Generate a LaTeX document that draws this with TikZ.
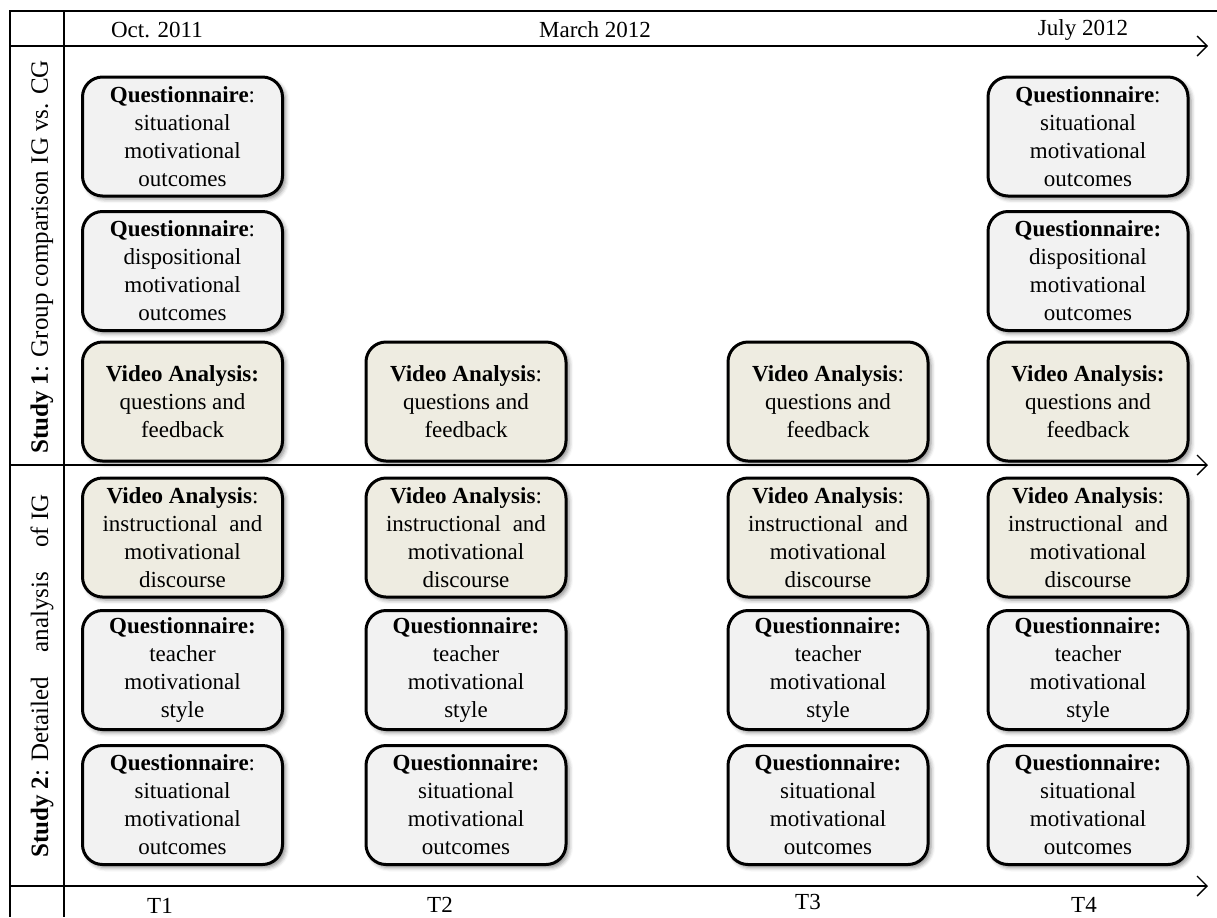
\documentclass[tikz,border=0pt]{standalone}
\usepackage{fontspec}
\setmainfont{Liberation Serif}
\usetikzlibrary{arrows.meta,shadows.blur}
\definecolor{qfill}{HTML}{F2F2F2}
\definecolor{vfill}{HTML}{EEECE1}
\begin{document}
\begin{tikzpicture}[x=0.5pt,y=-0.5pt,
  card/.style={draw=black, line width=1.5pt, rounded corners=10pt,
    minimum width=100pt, minimum height=59.5pt, inner sep=0pt, align=center,
    font=\fontsize{11.5}{14}\selectfont,
    blur shadow={shadow xshift=1.5pt, shadow yshift=-1.5pt,
      shadow blur radius=2pt, shadow opacity=45}},
  quest/.style={card, fill=qfill},
  video/.style={card, fill=vfill},
  frame/.style={line width=1pt},
  axis/.style={line width=0.7pt, -{Straight Barb[length=5pt,width=10pt]}},
  lbl/.style={font=\fontsize{11.5}{14}\selectfont, inner sep=0pt},
  studylbl/.style={font=\fontsize{12.5}{15}\selectfont, inner sep=0pt, rotate=90}
]
\useasboundingbox (0,0) rectangle (1217,917);

% frame of the table
\coordinate (tl) at (10,11);
\coordinate (tr) at (1217,11);
\coordinate (bl) at (10,917);
\coordinate (it) at (64,11);
\coordinate (ib) at (64,917);
\draw[frame] (tr) -- (tl) -- (bl);
\draw[frame] (it) -- (ib);

% time axes
\coordinate (a0s) at (10,46);  \coordinate (a0e) at (1208,46);
\coordinate (a1s) at (10,465); \coordinate (a1e) at (1208,465);
\coordinate (a2s) at (10,886); \coordinate (a2e) at (1208,886);
\draw[axis] (a0s) -- (a0e);
\draw[axis] (a1s) -- (a1e);
\draw[axis] (a2s) -- (a2e);

% dates
\node[lbl] (d1) at (157,30) {Oct. 2011};
\node[lbl] (d2) at (595,30) {March 2012};
\node[lbl] (d3) at (1083,30) {July 2012};

% measurement points
\node[lbl] (t1) at (160,906) {T1};
\node[lbl] (t2) at (440,905) {T2};
\node[lbl] (t3) at (808,902) {T3};
\node[lbl] (t4) at (1084,905) {T4};

% study labels
\node[studylbl] (st1) at (42,257) {\textbf{Study 1}: Group comparison IG vs. CG};
\node[studylbl] (st2) at (42,676) {\textbf{Study 2}: Detailed\hspace{9pt} analysis\hspace{9pt} of IG};

% Study 1
\node[quest] (s1q1a) at (182.5,136.5) {\textbf{Questionnaire}:\\situational\\motivational\\outcomes};
\node[quest] (s1q2a) at (182.5,271) {\textbf{Questionnaire}:\\dispositional\\motivational\\outcomes};
\node[video] (s1va) at (182.5,401.5) {\textbf{Video Analysis:}\\questions and\\feedback};
\node[video] (s1vb) at (466,401.5) {\textbf{Video Analysis}:\\questions and\\feedback};
\node[video] (s1vc) at (828,401.5) {\textbf{Video Analysis}:\\questions and\\feedback};
\node[quest] (s1q1d) at (1088,136.5) {\textbf{Questionnaire}:\\situational\\motivational\\outcomes};
\node[quest] (s1q2d) at (1088,271) {\textbf{Questionnaire:}\\dispositional\\motivational\\outcomes};
\node[video] (s1vd) at (1088,401.5) {\textbf{Video Analysis:}\\questions and\\feedback};

% Study 2
\foreach \n/\cx in {a/182.5, b/466, c/828, d/1088}{
  \node[video] (s2v\n) at (\cx,537.5) {\textbf{Video Analysis}:\\instructional\hspace{3pt} and\\motivational\\discourse};
  \node[quest] (s2t\n) at (\cx,670) {\textbf{Questionnaire:}\\teacher\\motivational\\style};
}
\node[quest] (s2sa) at (182.5,805) {\textbf{Questionnaire}:\\situational\\motivational\\outcomes};
\node[quest] (s2sb) at (466,805) {\textbf{Questionnaire:}\\situational\\motivational\\outcomes};
\node[quest] (s2sc) at (828,805) {\textbf{Questionnaire:}\\situational\\motivational\\outcomes};
\node[quest] (s2sd) at (1088,805) {\textbf{Questionnaire:}\\situational\\motivational\\outcomes};
\end{tikzpicture}
\end{document}
